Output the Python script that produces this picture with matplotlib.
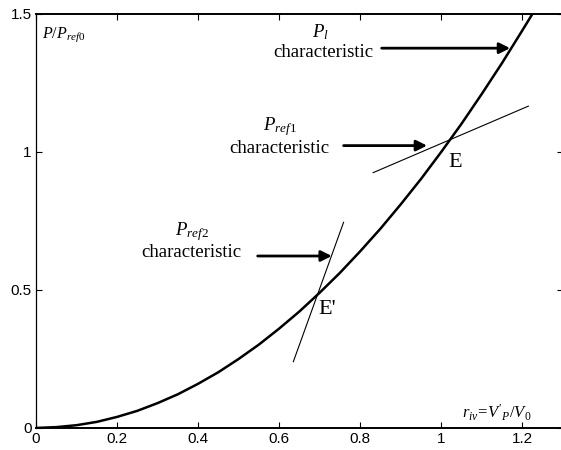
import matplotlib
matplotlib.use('Agg')
import matplotlib.pyplot as plt

# Serif for annotations, sans for tick labels
plt.rcParams['mathtext.fontset'] = 'custom'
plt.rcParams['mathtext.rm'] = 'Liberation Serif'
plt.rcParams['mathtext.it'] = 'Liberation Serif:italic'
plt.rcParams['font.family'] = 'Liberation Sans'

# P_l characteristic
r_iv = [0, 0.05, 0.1, 0.15, 0.2, 0.25, 0.3, 0.35, 0.4, 0.45, 0.5, 0.55, 0.6,
        0.65, 0.7, 0.75, 0.8, 0.85, 0.9, 0.95, 1.0, 1.05, 1.1, 1.15, 1.2, 1.225]
p_l = [0, 0.003, 0.01, 0.022, 0.04, 0.062, 0.09, 0.122, 0.16, 0.202, 0.25,
       0.302, 0.36, 0.422, 0.49, 0.562, 0.64, 0.722, 0.81, 0.902, 1.0, 1.102,
       1.21, 1.322, 1.44, 1.5]

# P_ref1 and P_ref2 characteristics (straight segments)
ref1_x = [0.832, 1.215]
ref1_y = [0.925, 1.166]
ref2_x = [0.635, 0.759]
ref2_y = [0.240, 0.745]

xticks = [0, 0.2, 0.4, 0.6, 0.8, 1, 1.2]
xtick_labels = ['0', '0.2', '0.4', '0.6', '0.8', '1', '1.2']
yticks = [0, 0.5, 1, 1.5]
ytick_labels = ['0', '0.5', '1', '1.5']

fig = plt.figure(figsize=(5.61, 4.5), dpi=100)
ax = fig.add_axes([0.0642, 0.049, 0.939, 0.920])

ax.plot(r_iv, p_l, color='black', lw=1.8)
ax.plot(ref1_x, ref1_y, color='black', lw=0.8)
ax.plot(ref2_x, ref2_y, color='black', lw=0.8)

ax.set_xlim(0, 1.3)
ax.set_ylim(0, 1.5)
ax.set_xticks(xticks)
ax.set_xticklabels(xtick_labels)
ax.set_yticks(yticks)
ax.set_yticklabels(ytick_labels)
ax.tick_params(direction='in', top=True, right=True, length=4, width=0.8,
               labelsize=11, pad=3)
for s in ['top', 'bottom']:
    ax.spines[s].set_linewidth(1.4)
for s in ['left', 'right']:
    ax.spines[s].set_linewidth(0.9)

tfont = dict(family='Liberation Serif', fontsize=13.5, color='black')

# arrows
arrow = dict(arrowstyle='-|>', lw=2, color='black', mutation_scale=16,
             shrinkA=0, shrinkB=0)
ax.annotate('', xy=(1.17, 1.376), xytext=(0.853, 1.376), arrowprops=arrow)
ax.annotate('', xy=(0.965, 1.023), xytext=(0.759, 1.023), arrowprops=arrow)
ax.annotate('', xy=(0.730, 0.623), xytext=(0.547, 0.623), arrowprops=arrow)

# labels
ax.text(0.701, 1.435, r'$P_l$', ha='center', va='center', **tfont)
ax.text(0.709, 1.362, 'characteristic', ha='center', va='center', **tfont)
ax.text(0.602, 1.091, r'$P_{ref\mathrm{1}}$', ha='center', va='center', **tfont)
ax.text(0.600, 1.014, 'characteristic', ha='center', va='center', **tfont)
ax.text(0.385, 0.710, r'$P_{ref\mathrm{2}}$', ha='center', va='center', **tfont)
ax.text(0.383, 0.634, 'characteristic', ha='center', va='center', **tfont)
ax.text(1.035, 0.960, 'E', ha='center', va='center', family='Liberation Serif',
        fontsize=16)
ax.text(0.719, 0.428, "E'", ha='center', va='center', family='Liberation Serif',
        fontsize=16)
ax.text(0.015, 1.424, r'$P/P_{ref\mathrm{0}}$', ha='left', va='center',
        family='Liberation Serif', fontsize=11.5)
ax.text(1.052, 0.054, r"$r_{iv}\!=\!{V'}_P/V_\mathrm{0}$", ha='left', va='center',
        family='Liberation Serif', fontsize=12)

fig.savefig('out.png', dpi=100)
